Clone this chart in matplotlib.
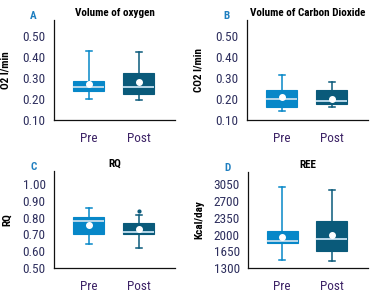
import matplotlib
matplotlib.use("Agg")
import matplotlib.pyplot as plt

plt.rcParams['font.family'] = ['Roboto Condensed', 'DejaVu Sans']

groups = ["Pre", "Post"]

# (whislo, q1, med, mean, q3, whishi) for each panel, Pre then Post
o2_pre = [0.202, 0.240, 0.259, 0.271, 0.286, 0.430]
o2_post = [0.194, 0.225, 0.257, 0.279, 0.324, 0.425]
co2_pre = [0.141, 0.163, 0.200, 0.211, 0.243, 0.316]
co2_post = [0.163, 0.175, 0.192, 0.202, 0.243, 0.283]
rq_pre = [0.643, 0.702, 0.780, 0.756, 0.806, 0.857]
rq_post = [0.619, 0.702, 0.714, 0.730, 0.768, 0.815]
rq_post_outliers = [0.841]
ree_pre = [1467, 1814, 1855, 1946, 2071, 2987]
ree_post = [1446, 1647, 1897, 1994, 2286, 2925]

o2_ticks = [0.10, 0.20, 0.30, 0.40, 0.50]
co2_ticks = [0.10, 0.20, 0.30, 0.40, 0.50]
rq_ticks = [0.50, 0.60, 0.70, 0.80, 0.90, 1.00]
ree_ticks = [1300, 1650, 2000, 2350, 2700, 3050]

titles = ["Volume of oxygen", "Volume of Carbon Dioxide", "RQ", "REE"]
letters = ["A", "B", "C", "D"]
ylabels = ["O2 l/min", "CO2 l/min", "RQ", "Kcal/day"]

PRE_C = "#0787c8"
POST_C = "#0a5a7a"
MED_C = "#b8d8ea"
TICK_C = "#2e2f5e"
XT_C = "#3d2366"
LET_C = "#1f7fc0"

W, H = 373, 297
fig = plt.figure(figsize=(W / 100, H / 100), dpi=100)


def axpix(l, t, r, b):
    return fig.add_axes([l / W, 1 - b / H, (r - l) / W, (b - t) / H])


def stats(v, fl=()):
    return dict(whislo=v[0], q1=v[1], med=v[2], mean=v[3], q3=v[4], whishi=v[5], fliers=list(fl))


panels = [
    (axpix(54, 20, 175, 120), [stats(o2_pre), stats(o2_post)], o2_ticks, (0.10, 0.576), "{:.2f}"),
    (axpix(247, 20, 368, 120), [stats(co2_pre), stats(co2_post)], co2_ticks, (0.10, 0.576), "{:.2f}"),
    (axpix(54, 171, 175, 268), [stats(rq_pre), stats(rq_post, rq_post_outliers)], rq_ticks, (0.50, 1.079), "{:.2f}"),
    (axpix(248, 172, 368, 268), [stats(ree_pre), stats(ree_post)], ree_ticks, (1300, 3306), "{:.0f}"),
]

for i, (ax, st, ticks, ylim, fmt) in enumerate(panels):
    colors = [PRE_C, POST_C]
    for j, s in enumerate(st):
        c = colors[j]
        ax.bxp([s], positions=[j + 1], widths=0.62, showmeans=True, patch_artist=True,
               capwidths=[0.12],
               boxprops=dict(facecolor=c, edgecolor=c, linewidth=0.8),
               whiskerprops=dict(color=c, linewidth=1.1),
               capprops=dict(color=c, linewidth=1.1),
               medianprops=dict(color=MED_C, linewidth=1.4),
               meanprops=dict(marker='o', markerfacecolor='white', markeredgecolor='white', markersize=4),
               flierprops=dict(marker='o', markerfacecolor=c, markeredgecolor=c, markersize=2))
    ax.set_xlim(0.31, 2.73)
    ax.set_ylim(*ylim)
    ax.set_yticks(ticks)
    ax.set_yticklabels([fmt.format(t) for t in ticks], color=TICK_C, fontsize=9.5)
    ax.set_xticks([1, 2])
    ax.set_xticklabels(groups, color=XT_C, fontsize=9.5)
    ax.tick_params(length=0, pad=6)
    ax.tick_params(axis='x', pad=9)
    for sp in ["top", "right"]:
        ax.spines[sp].set_visible(False)
    for sp in ["left", "bottom"]:
        ax.spines[sp].set_linewidth(0.9)
        ax.spines[sp].set_color("#111111")
    ax.set_title(titles[i], fontsize=8, fontweight='bold', pad=3)
    ax.set_ylabel(ylabels[i], fontsize=8, fontweight='bold')
    ax.text(-0.17, 1.04, letters[i], transform=ax.transAxes, color=LET_C,
            fontsize=8, fontweight='bold', ha='center', va='center')

for ax, x in zip([panels[0][0], panels[2][0]], [10, 12]):
    ax.yaxis.set_label_coords((x - 54) / 121, 0.5)
panels[1][0].yaxis.set_label_coords((204 - 247) / 121, 0.5)
panels[3][0].yaxis.set_label_coords((204 - 248) / 120, 0.5)

fig.savefig("out.png", dpi=100)
